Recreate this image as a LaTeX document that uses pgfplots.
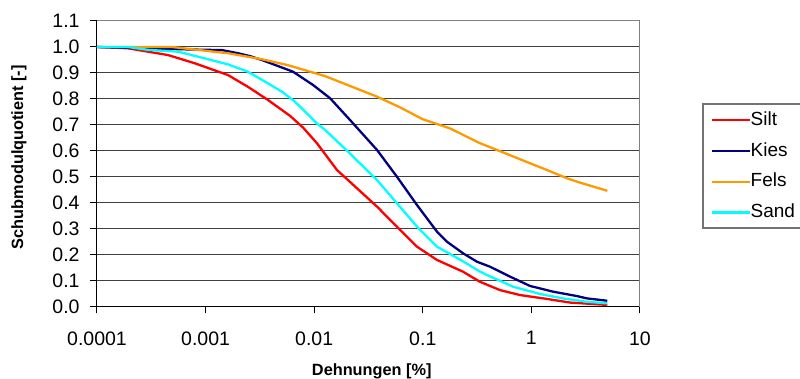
\documentclass[border=0pt]{standalone}
\usepackage{fontspec}
\setmainfont{Liberation Sans}
\usepackage{pgfplots}
\pgfplotsset{compat=1.18}
\definecolor{silt}{RGB}{255,0,0}
\definecolor{kies}{RGB}{0,0,128}
\definecolor{fels}{RGB}{255,153,0}
\definecolor{sand}{RGB}{0,255,255}
\begin{document}
\begin{tikzpicture}
\begin{axis}[
  at={(48.5pt,36pt)}, anchor=south west,
  scale only axis, width=271.5pt, height=143pt,
  xmode=log, xmin=1e-4, xmax=10, ymin=0, ymax=1.1,
  axis x line*=bottom, axis y line*=left,
  axis line style={black, line width=0.5pt},
  xtick={1e-4,1e-3,1e-2,1e-1,1,10},
  xticklabels={0.0001,0.001,0.01,0.1,1,10},
  xminorticks=false, yminorticks=false,
  ytick={0,0.1,0.2,0.3,0.4,0.5,0.6,0.7,0.8,0.9,1.0},
  yticklabels={0.0,0.1,0.2,0.3,0.4,0.5,0.6,0.7,0.8,0.9,1.0},
  extra y ticks={1.1}, extra y tick labels={1.1},
  extra y tick style={major grid style={black!50, line width=0.5pt}},
  extra x ticks={10}, extra x tick labels={},
  extra x tick style={grid=major, major grid style={black!50, line width=0.5pt}, major tick length=0pt},
  ymajorgrids, major grid style={black!75, line width=0.5pt},
  tick align=outside, major tick length=3.25pt,
  tick style={black, line width=0.5pt},
  /pgf/number format/assume math mode=true,
  tick label style={font=\fontsize{9.75}{11}\selectfont},
  yticklabel style={inner xsep=0pt, xshift=-5.25pt},
  xticklabel style={inner ysep=0pt, yshift=-8.75pt},
  xlabel={Dehnungen [\%]},
  ylabel={Schubmodulquotient [-]},
  label style={font=\bfseries\fontsize{8.15}{10}\selectfont},
  xlabel style={at={(axis description cs:0.506,-0.226)}, anchor=center},
  ylabel style={at={(axis description cs:-0.1436,0.524)}, anchor=center},
  legend style={
    at={(axis description cs:1.116,0.71)}, anchor=north west,
    draw=none, fill=none,
    inner xsep=3.5pt, inner ysep=3pt,
    font=\fontsize{9.5}{11}\selectfont,
    row sep=5.35pt,
    nodes={inner sep=0pt, text height=7.5pt, text depth=2.5pt},
    /tikz/every even column/.append style={column sep=4pt},
  },
  legend cell align=left,
  legend image code/.code={\draw[#1] (0pt,0pt) -- (19pt,0pt);},
]
\coordinate (LT) at (axis description cs:1.116,0.71);
\coordinate (LB) at (axis description cs:1.116,0.276);
\addplot[silt, line width=1.15pt] coordinates {
(1e-4,1.0) (1.93e-4,0.995) (2.95e-4,0.982) (4.51e-4,0.969) (8e-4,0.937)
(1.61e-3,0.892) (2.45e-3,0.847) (3.76e-3,0.796) (6e-3,0.735) (7.9e-3,0.69)
(1.06e-2,0.63) (1.62e-2,0.527) (3.79e-2,0.386) (5.78e-2,0.309) (8.85e-2,0.232)
(0.135,0.181) (0.234,0.136) (0.336,0.097) (0.514,0.065) (0.785,0.046)
(1.39,0.031) (2.27,0.017) (5,0.008)
};
\addlegendentry{Silt}
\addplot[kies, line width=1.15pt] coordinates {
(1e-4,1.0) (8e-4,0.99) (1.42e-3,0.988) (1.99e-3,0.976) (2.56e-3,0.965)
(3.30e-3,0.95) (6.38e-3,0.905) (9.75e-3,0.854) (1.40e-2,0.803) (2.14e-2,0.719)
(3.79e-2,0.604) (5.78e-2,0.501) (8.85e-2,0.392) (0.135,0.29) (0.167,0.251)
(0.234,0.207) (0.316,0.174) (0.416,0.155) (0.635,0.117) (0.97,0.081)
(1.58,0.059) (2.63,0.042) (3.25,0.033) (5,0.024)
};
\addlegendentry{Kies}
\addplot[fels, line width=1.15pt] coordinates {
(1e-4,1.0) (4.9e-4,1.0) (8e-4,0.99) (1.61e-3,0.976) (3.30e-3,0.953)
(5.74e-3,0.93) (1.26e-2,0.888) (2.14e-2,0.85) (3.79e-2,0.809) (6.17e-2,0.768)
(0.1,0.722) (0.178,0.687) (0.336,0.63) (0.482,0.604) (0.97,0.553)
(1.39,0.527) (2.13,0.495) (2.63,0.482) (5,0.447)
};
\addlegendentry{Fels}
\addplot[sand, line width=1.15pt] coordinates {
(1e-4,1.0) (1.93e-4,1.0) (2.95e-4,0.989) (5.57e-4,0.982) (9.86e-4,0.956)
(1.61e-3,0.933) (2.45e-3,0.905) (3.52e-3,0.867) (5.05e-3,0.828) (6.65e-3,0.79)
(1.06e-2,0.706) (1.26e-2,0.681) (2.14e-2,0.59) (3.79e-2,0.488) (5.78e-2,0.399)
(8.85e-2,0.309) (0.135,0.232) (0.234,0.176) (0.336,0.136) (0.39,0.123)
(0.678,0.078) (1.2,0.05) (1.95,0.033) (3.25,0.020) (5,0.014)
};
\addlegendentry{Sand}
\end{axis}
\draw[black!55, line width=0.6pt] (LT -| 400pt,0) -- (LT) -- (LB) -- (LB -| 400pt,0);
\pgfresetboundingbox
\path[use as bounding box] (0,0) rectangle (400pt,189.5pt);
\end{tikzpicture}
\end{document}
